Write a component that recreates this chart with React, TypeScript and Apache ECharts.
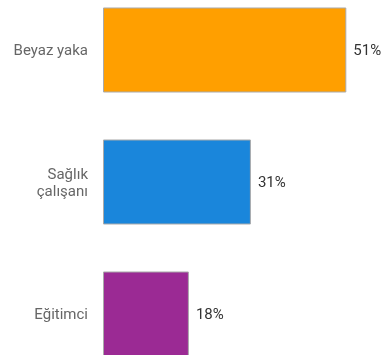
import React, { useEffect, useRef } from "react";
import * as echarts from "echarts";

const categories = ["Beyaz yaka", "Sağlık\nçalışanı", "Eğitimci"];
const values = [51, 31, 18];
const colors = ["#FF9F00", "#1A86DB", "#9B2A94"];

export default function App() {
  const ref = useRef<HTMLDivElement>(null);
  useEffect(() => {
    const chart = echarts.init(ref.current!, null, { renderer: "svg" });
    chart.setOption({
      animation: false,
      grid: { left: 103, width: 262.4, top: 0, bottom: 0, containLabel: false },
      xAxis: { type: "value", min: 0, max: 55, show: false },
      yAxis: {
        type: "category",
        data: categories,
        inverse: true,
        axisLine: { show: false },
        axisTick: { show: false },
        axisLabel: {
          color: "#666",
          fontSize: 15,
          fontFamily: "Roboto",
          margin: 15,
          lineHeight: 17,
          align: "right",
        },
      },
      series: [
        {
          type: "bar",
          data: values.map((v, i) => ({ value: v, itemStyle: { color: colors[i] } })),
          barWidth: "64.4%",
          itemStyle: { borderColor: "#aaa", borderWidth: 1 },
          label: {
            show: true,
            position: "right",
            distance: 4,
            formatter: "{c}%",
            color: "#333",
            fontSize: 15,
            fontFamily: "Roboto",
            backgroundColor: "#fff",
            padding: [3, 3],
          },
        },
      ],
    });
    return () => chart.dispose();
  }, []);
  return (
    <div style={{ position: "fixed", left: 0, top: 0, width: 382, height: 355, overflow: "hidden" }}>
      <div ref={ref} style={{ position: "absolute", left: 0, top: -16.5, width: 382, height: 396 }} />
    </div>
  );
}
